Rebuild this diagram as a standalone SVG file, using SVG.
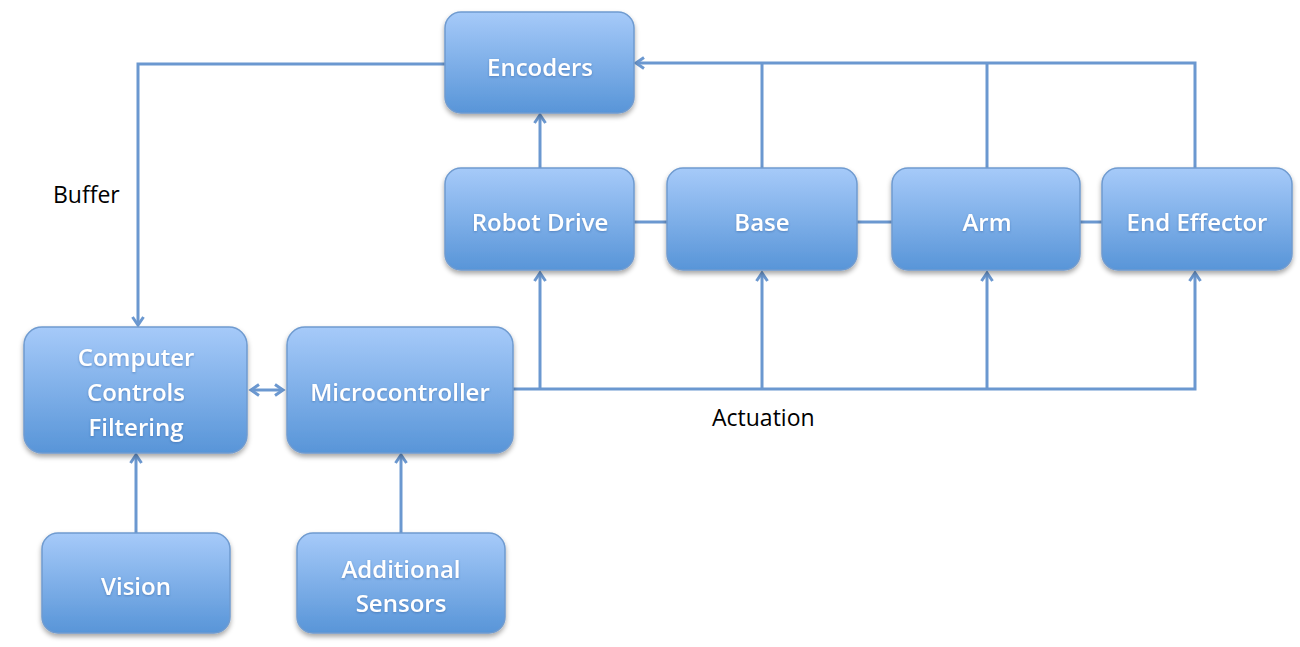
<svg xmlns="http://www.w3.org/2000/svg" width="1300" height="647" viewBox="0 0 1300 647">
<defs>
<linearGradient id="g" x1="0" y1="0" x2="0" y2="1">
<stop offset="0" stop-color="#a6caf9"/>
<stop offset="1" stop-color="#5895d8"/>
</linearGradient>
<filter id="sh" x="-10%" y="-10%" width="120%" height="130%">
<feDropShadow dx="0" dy="3" stdDeviation="2.5" flood-color="#000" flood-opacity="0.35"/>
</filter>
<filter id="ts" x="-10%" y="-30%" width="120%" height="160%">
<feDropShadow dx="0" dy="1" stdDeviation="1" flood-color="#2a5a9a" flood-opacity="0.5"/>
</filter>
<marker id="ar" viewBox="0 0 14 14" refX="11" refY="7" markerWidth="14" markerHeight="14" markerUnits="userSpaceOnUse" orient="auto-start-reverse">
<path d="M3,1.5 L11,7 L3,12.5" fill="none" stroke="#6b98d0" stroke-width="3"/>
</marker>
<style>
.box{fill:url(#g);stroke:#6f9bd0;stroke-width:1.5;filter:url(#sh)}
.t{font-family:"Open Sans","Liberation Sans",sans-serif;font-size:24px;font-weight:600;fill:#fff;text-anchor:middle;filter:url(#ts)}
.lbl{font-family:"Open Sans","Liberation Sans",sans-serif;font-size:23px;fill:#000}
.c{fill:none;stroke:#6b98d0;stroke-width:3}
.a{marker-end:url(#ar)}
</style>
</defs>
<g id="connectors">
<polyline class="c a" points="445,64 138,64 138,325"/>
<polyline class="c a" points="1195,168 1195,63 636,63"/>
<line class="c" x1="762" y1="168" x2="762" y2="63"/>
<line class="c" x1="987" y1="168" x2="987" y2="63"/>
<line class="c a" x1="540" y1="168" x2="540" y2="115"/>
<line class="c" x1="634" y1="222" x2="667" y2="222"/>
<line class="c" x1="857" y1="222" x2="892" y2="222"/>
<line class="c" x1="1080" y1="222" x2="1102" y2="222"/>
<polyline class="c a" points="513,389 1195,389 1195,273"/>
<line class="c a" x1="540" y1="389" x2="540" y2="273"/>
<line class="c a" x1="762" y1="389" x2="762" y2="273"/>
<line class="c a" x1="987" y1="389" x2="987" y2="273"/>
<line class="c" x1="251" y1="390" x2="283" y2="390" marker-start="url(#ar)" marker-end="url(#ar)"/>
<line class="c a" x1="136" y1="533" x2="136" y2="455"/>
<line class="c a" x1="401" y1="533" x2="401" y2="455"/>
</g>
<g id="encoders"><rect class="box" x="445" y="12" width="189" height="101" rx="16"/><text class="t" x="540" y="76">Encoders</text></g>
<g id="robot-drive"><rect class="box" x="445" y="168" width="189" height="102" rx="16"/><text class="t" x="540" y="231">Robot Drive</text></g>
<g id="base"><rect class="box" x="667" y="168" width="190" height="102" rx="16"/><text class="t" x="762" y="231">Base</text></g>
<g id="arm"><rect class="box" x="892" y="168" width="188" height="102" rx="16"/><text class="t" x="987" y="231">Arm</text></g>
<g id="end-effector"><rect class="box" x="1102" y="168" width="190" height="102" rx="16"/><text class="t" x="1197" y="231">End Effector</text></g>
<g id="computer"><rect class="box" x="24" y="327" width="223" height="126" rx="18"/><text class="t" x="136" y="366">Computer</text><text class="t" x="136" y="401">Controls</text><text class="t" x="136" y="436">Filtering</text></g>
<g id="microcontroller"><rect class="box" x="287" y="327" width="226" height="126" rx="18"/><text class="t" x="400" y="401">Microcontroller</text></g>
<g id="vision"><rect class="box" x="42" y="533" width="188" height="100" rx="16"/><text class="t" x="136" y="595">Vision</text></g>
<g id="additional-sensors"><rect class="box" x="297" y="533" width="208" height="100" rx="16"/><text class="t" x="401" y="578">Additional</text><text class="t" x="401" y="612">Sensors</text></g>
<text class="lbl" x="53" y="203">Buffer</text>
<text class="lbl" x="712" y="426">Actuation</text>
</svg>
